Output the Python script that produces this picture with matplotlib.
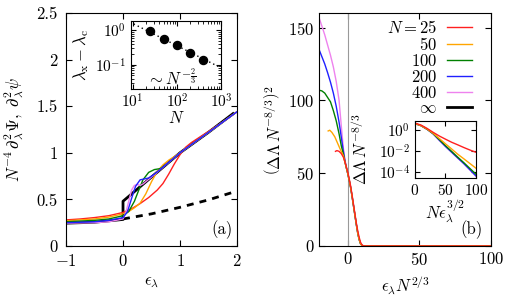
import matplotlib
matplotlib.use("Agg")
import matplotlib.pyplot as plt
from matplotlib.lines import Line2D

plt.rcParams['font.family'] = 'serif'
plt.rcParams['font.serif'] = ['cmr10']
plt.rcParams['mathtext.fontset'] = 'cm'
plt.rcParams['axes.formatter.use_mathtext'] = True
plt.rcParams['font.size'] = 12

colors = ['#ff2020', '#ffa500', '#008000', '#2020ff', '#ee82ee']
n_labels = ['$N = 25$', '$50$', '$100$', '$200$', '$400$', r'$\infty$']

# ---- panel (a) main curves: eps_lambda vs N^-4 d2Psi
a_red_x = [-1, -0.75, -0.5, -0.25, 0, 0.15, 0.3, 0.45, 0.6, 0.7, 0.8, 0.9, 1.0, 1.1, 1.2, 1.3, 1.5, 1.75, 2.0]
a_red_y = [0.28, 0.29, 0.305, 0.325, 0.36, 0.40, 0.455, 0.52, 0.60, 0.67, 0.77, 0.88, 0.98, 1.06, 1.11, 1.15, 1.23, 1.33, 1.44]
a_org_x = [-1, -0.5, -0.25, 0, 0.1, 0.2, 0.3, 0.4, 0.5, 0.6, 0.7, 0.8, 0.9, 1.0, 1.25, 1.5, 1.75, 2.0]
a_org_y = [0.27, 0.29, 0.31, 0.345, 0.37, 0.41, 0.46, 0.56, 0.69, 0.80, 0.87, 0.92, 0.96, 1.0, 1.11, 1.22, 1.33, 1.44]
a_grn_x = [-1, -0.5, -0.25, 0, 0.1, 0.2, 0.27, 0.35, 0.45, 0.55, 0.65, 0.75, 0.85, 1.0, 1.25, 1.5, 1.75, 2.0]
a_grn_y = [0.26, 0.275, 0.29, 0.325, 0.37, 0.48, 0.59, 0.71, 0.79, 0.82, 0.83, 0.87, 0.92, 1.0, 1.11, 1.22, 1.33, 1.44]
a_blu_x = [-1, -0.5, -0.25, 0, 0.08, 0.15, 0.22, 0.3, 0.38, 0.45, 0.55, 0.7, 1.0, 1.25, 1.5, 1.75, 2.0]
a_blu_y = [0.25, 0.26, 0.275, 0.305, 0.37, 0.51, 0.64, 0.71, 0.72, 0.73, 0.77, 0.845, 1.0, 1.11, 1.22, 1.33, 1.44]
a_vio_x = [-1, -0.5, -0.25, 0, 0.05, 0.1, 0.15, 0.2, 0.25, 0.3, 0.35, 0.5, 1.0, 1.25, 1.5, 1.75, 2.0]
a_vio_y = [0.245, 0.25, 0.26, 0.29, 0.36, 0.48, 0.60, 0.65, 0.66, 0.65, 0.665, 0.74, 1.0, 1.11, 1.22, 1.33, 1.44]
a_inf_x = [-1, -0.5, 0, 0, 0.5, 1.0, 1.5, 1.93]
a_inf_y = [0.245, 0.255, 0.285, 0.48, 0.74, 1.0, 1.22, 1.42]
a_dash_x = [0, 0.5, 1.0, 1.5, 2.0]
a_dash_y = [0.29, 0.345, 0.415, 0.495, 0.59]

# ---- inset (a): lambda_x - lambda_c vs N
ins_N = [25, 50, 100, 200, 400]
ins_gap = [0.955, 0.565, 0.366, 0.224, 0.139]
fit_N = [10.5, 1000]
fit_gap = [1.53, 0.082]

# ---- panel (b) main curves: eps N^(2/3) vs (dL N^-8/3)^2
b_red_x = [-8.5, -7.5, -6, -4.5, -3, -2, -1, 0, 1, 2, 3, 4, 5, 6, 7, 8, 9, 10, 11, 12, 100]
b_red_y = [65, 65.5, 65, 63.5, 61, 58, 54.5, 51, 46.5, 41.5, 35.5, 29, 22.5, 16, 10.5, 6, 2.5, 0.8, 0.15, 0, 0]
b_org_x = [-13.6, -12.5, -11, -9, -7, -5, -3, -2, -1, 0, 1, 2, 3, 4, 5, 6, 7, 8, 9, 10, 11, 100]
b_org_y = [79, 79.5, 78, 75, 70.5, 66, 62, 58, 54, 50, 45.5, 40.5, 34.5, 28, 21.5, 15, 9, 4.5, 1.5, 0.4, 0, 0]
b_grn_x = [-20, -18, -16, -14, -12, -10, -8, -6, -4.5, -3, -2, -1, 0, 1, 2, 3, 4, 5, 6, 7, 8, 9, 10, 11, 100]
b_grn_y = [107, 106.5, 105, 102, 99, 93, 86, 77, 69, 63, 58, 54, 50, 45.5, 40.5, 34.5, 28, 21.5, 15, 9, 4.5, 1.5, 0.4, 0, 0]
b_blu_x = [-20, -18, -16, -14, -12, -10, -8, -6, -4.5, -3, -2, -1, 0, 1, 2, 3, 4, 5, 6, 7, 8, 9, 10, 11, 100]
b_blu_y = [135, 130, 125, 119, 112.5, 105, 96, 85, 75, 65, 59, 54, 50, 45.5, 40.5, 34.5, 28, 21.5, 15, 9, 4.5, 1.5, 0.4, 0, 0]
b_vio_x = [-20, -18, -16, -14, -12, -10, -8, -6, -4.5, -3, -2, -1, 0, 1, 2, 3, 4, 5, 6, 7, 8, 9, 10, 11, 100]
b_vio_y = [157, 151, 145, 138, 131, 123, 113, 100, 83, 67, 60, 54.5, 50, 45.5, 40.5, 34.5, 28, 21.5, 15, 9, 4.5, 1.5, 0.4, 0, 0]

# ---- inset (b): dL N^-8/3 vs N eps^(3/2)
ib_x = [0, 10, 20, 30, 40, 50, 60, 70, 80, 90, 100]
ib_red = [5.0, 3.2, 1.5, 0.63, 0.28, 0.14, 0.071, 0.040, 0.022, 0.0126, 0.0076]
ib_org = [4.5, 2.8, 1.3, 0.5, 0.16, 0.05, 0.016, 0.005, 0.0018, 6.3e-4, 2.2e-4]
ib_grn = [4.5, 2.8, 1.26, 0.47, 0.126, 0.033, 0.0093, 0.0026, 7.6e-4, 2.1e-4, 5.8e-5]
ib_blu = [4.5, 2.8, 1.26, 0.45, 0.11, 0.028, 0.0079, 0.0022, 6.3e-4, 1.6e-4, 4.0e-5]
ib_vio = [4.4, 2.7, 1.2, 0.43, 0.105, 0.027, 0.0076, 0.0021, 6.0e-4, 1.5e-4, 3.8e-5]

a_xticks = [-1, 0, 1, 2]
a_yticks = [0, 0.5, 1, 1.5, 2, 2.5]
a_yticklabels = ['0', '0.5', '1', '1.5', '2', '2.5']
b_xticks = [0, 50, 100]
b_yticks = [0, 50, 100, 150]


def style(ax, length=4, size=12):
    ax.tick_params(which='both', direction='in', top=True, right=True,
                   labelsize=size)
    ax.tick_params(which='major', length=length)
    ax.tick_params(which='minor', length=length * 0.55)


fig = plt.figure(figsize=(5.07, 3.0), dpi=100)

# ---------------- panel (a)
axa = fig.add_axes([0.1302, 0.18, 0.3373, 0.7767])
axa.plot(a_inf_x, a_inf_y, color='black', lw=2.0)
axa.plot(a_dash_x, a_dash_y, color='black', lw=2.0, ls=(0, (2.5, 2.2)))
for xs, ys, c in zip([a_red_x, a_org_x, a_grn_x, a_vio_x, a_blu_x],
                     [a_red_y, a_org_y, a_grn_y, a_vio_y, a_blu_y],
                     [colors[0], colors[1], colors[2], colors[4], colors[3]]):
    axa.plot(xs, ys, color=c, lw=1.0)
axa.set_xlim(-1, 2)
axa.set_ylim(0, 2.5)
axa.set_xticks(a_xticks)
axa.set_yticks(a_yticks)
axa.set_yticklabels(a_yticklabels)
style(axa)
axa.tick_params(axis='x', pad=5)
axa.tick_params(axis='y', pad=6)
axa.set_xlabel(r'$\epsilon_\lambda$')
axa.xaxis.set_label_coords(0.5, -0.125)
axa.set_ylabel(r'$N^{-4}\,\partial_\lambda^2\Psi,\ \partial_\lambda^2\psi$')
axa.yaxis.set_label_coords(-0.235, 0.5)
axa.text(0.91, 0.069, '(a)', transform=axa.transAxes, ha='center', va='center')

# inset (a)
ia = fig.add_axes([0.2584, 0.7033, 0.1775, 0.2267])
ia.plot(fit_N, fit_gap, color='black', lw=1.0, ls=(0, (1, 2.2)))
ia.plot(ins_N, ins_gap, 'o', color='black', ms=5.8)
ia.set_xscale('log')
ia.set_yscale('log')
ia.set_xlim(10 ** 0.96, 10 ** 3.0)
ia.set_ylim(10 ** -1.7, 10 ** 0.27)
ia.set_xticks([10, 100, 1000])
ia.set_yticks([0.1, 1])
style(ia, 3.5, 11)
ia.tick_params(axis='x', pad=2.5)
ia.set_xlabel('$N$')
ia.xaxis.set_label_coords(0.5, -0.31)
ia.set_ylabel(r'$\lambda_{\rm x}-\lambda_{\rm c}$')
ia.yaxis.set_label_coords(-0.44, 0.5)
ia.text(0.45, 0.17, r'$\sim N^{-\frac{2}{3}}$', transform=ia.transAxes,
        ha='center', va='center')

# ---------------- panel (b)
axb = fig.add_axes([0.6292, 0.18, 0.3393, 0.7767])
axb.axvline(0, color='0.6', lw=0.8)
for xs, ys, c in zip([b_vio_x, b_blu_x, b_grn_x, b_org_x, b_red_x],
                     [b_vio_y, b_blu_y, b_grn_y, b_org_y, b_red_y],
                     [colors[4], colors[3], colors[2], colors[1], colors[0]]):
    axb.plot(xs, ys, color=c, lw=1.0)
axb.set_xlim(-20, 100)
axb.set_ylim(0, 160)
axb.set_xticks(b_xticks)
axb.set_yticks(b_yticks)
style(axb)
axb.set_xlabel(r'$\epsilon_\lambda N^{2/3}$')
axb.xaxis.set_label_coords(0.5, -0.12)
axb.set_ylabel(r'$\left(\Delta\Lambda\,N^{-8/3}\right)^2$')
axb.yaxis.set_label_coords(-0.21, 0.5)
axb.text(0.888, 0.069, '(b)', transform=axb.transAxes, ha='center', va='center')

# markerfirst=False packs the rows right-aligned, so labels line up on the right
handles = [Line2D([], [], color=c, lw=1.0) for c in colors]
handles.append(Line2D([], [], color='black', lw=2.0))
axb.legend(handles, n_labels, loc='upper right', markerfirst=False,
           frameon=False, bbox_to_anchor=(0.89, 0.975), borderpad=0,
           borderaxespad=0, labelspacing=0.0, handlelength=1.5,
           handletextpad=0.6)

# inset (b)
ib = fig.add_axes([0.8185, 0.4067, 0.1203, 0.19])
for ys, c in zip([ib_vio, ib_blu, ib_grn, ib_org, ib_red],
                 [colors[4], colors[3], colors[2], colors[1], colors[0]]):
    ib.plot(ib_x, ys, color=c, lw=1.0)
ib.set_yscale('log')
ib.set_xlim(0, 100)
ib.set_ylim(10 ** -4.6, 10 ** 0.9)
ib.set_xticks([0, 50, 100])
ib.set_yticks([1e-4, 1e-2, 1])
style(ib, 3.5, 11)
ib.set_xlabel(r'$N\epsilon_\lambda^{3/2}$')
ib.xaxis.set_label_coords(0.5, -0.34)
ib.set_ylabel(r'$\Delta\Lambda\,N^{-8/3}$')
ib.yaxis.set_label_coords(-0.74, 0.5)

fig.savefig('out.png', dpi=100)
